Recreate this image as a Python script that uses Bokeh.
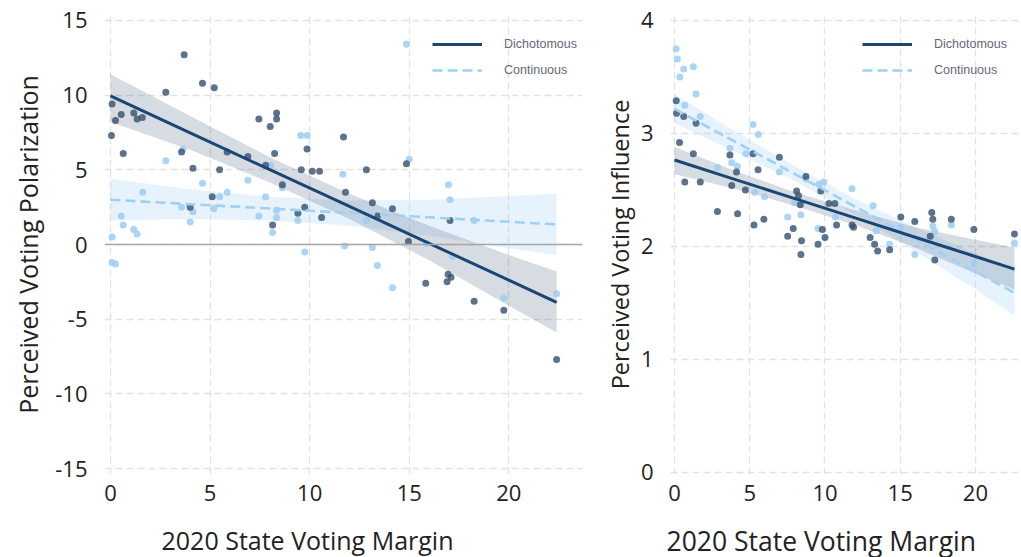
from bokeh.plotting import figure
from bokeh.layouts import row
from bokeh.models import Range1d, FixedTicker, Span, Legend, LegendItem, Title, GlobalInlineStyleSheet
from bokeh.embed import file_html
from bokeh.resources import INLINE

# ---------------- data ----------------
pol_dich_x = [0.08,0.25,0.54,0.05,0.64,1.17,1.34,1.6,2.78,3.7,3.57,4.14,4.0,4.62,5.21,5.48,5.11,5.86,6.9,7.45,
              8.02,8.34,8.34,8.24,7.79,8.63,8.14,9.58,10.13,10.5,9.87,9.41,9.75,10.6,11.7,11.8,12.85,13.15,14.16,13.4,
              14.86,17.05,14.96,15.83,16.95,16.9,17.1,18.26,19.75,22.4]
pol_dich_y = [9.4,8.3,8.7,7.3,6.1,8.8,8.4,8.5,10.2,12.7,6.2,5.1,2.5,10.8,10.5,5.0,3.2,6.2,5.9,8.4,
              7.9,8.8,8.4,6.1,5.3,4.0,1.3,5.0,4.9,4.9,6.4,2.1,2.5,1.8,7.2,3.5,5.0,2.8,2.4,1.9,
              5.4,1.6,0.2,-2.6,-2.0,-2.5,-2.2,-3.8,-4.4,-7.7]
pol_cont_x = [0.08,0.54,0.64,1.17,1.34,1.62,2.78,3.57,3.65,4.14,4.0,4.62,5.48,5.86,5.19,6.9,7.45,7.79,8.04,8.34,
              8.34,8.14,8.63,9.55,9.88,9.41,11.67,14.86,15.0,16.97,17.05,12.85,11.76,13.15,18.26,13.4,14.16,15.86,17.17,19.75,
              22.4,0.08,0.25,9.75]
pol_cont_y = [0.5,1.9,1.3,1.0,0.7,3.5,5.6,2.5,6.4,2.2,1.5,4.1,3.2,3.5,2.4,4.3,1.9,3.2,5.3,2.3,
              1.8,0.8,3.8,7.3,7.3,1.6,4.7,13.4,5.7,4.0,3.0,1.6,-0.1,-0.2,1.6,-1.4,-2.9,0.07,-0.8,-3.6,
              -3.3,-1.2,-1.3,-0.5]

inf_dich_x = [0.11,0.13,0.61,1.43,0.33,1.25,0.68,1.71,3.68,4.12,5.22,5.55,3.8,4.71,6.97,8.73,9.72,8.11,8.24,8.36,
              10.26,10.66,2.85,4.19,5.28,5.94,7.89,7.52,8.44,8.4,9.54,9.83,10.0,10.77,11.8,11.9,13.0,13.3,13.5,14.3,
              15.04,15.97,17.1,17.17,17.0,18.4,19.9,22.6,17.3]
inf_dich_y = [3.29,3.18,3.15,3.09,2.92,2.82,2.57,2.57,2.81,2.66,2.82,2.68,2.54,2.50,2.79,2.62,2.49,2.49,2.45,2.37,
              2.38,2.38,2.31,2.29,2.19,2.24,2.16,2.09,2.05,1.93,2.02,2.15,2.08,2.19,2.19,2.17,2.08,2.02,1.96,1.97,
              2.26,2.22,2.30,2.24,2.09,2.24,2.15,2.11,1.88]
inf_cont_x = [0.11,0.18,0.35,0.61,1.25,1.43,0.68,1.71,5.22,5.57,3.68,3.8,4.17,2.85,4.74,6.97,5.33,5.99,8.73,9.6,
              9.93,11.8,7.96,8.4,7.52,9.54,10.7,13.2,13.4,14.3,15.04,17.17,18.4,15.97,17.3,19.9,22.6]
inf_cont_y = [3.75,3.66,3.50,3.57,3.59,3.35,3.25,3.15,3.08,2.99,2.87,2.74,2.71,2.70,2.82,2.66,2.48,2.44,2.60,2.55,
              2.57,2.51,2.39,2.28,2.26,2.16,2.26,2.36,2.14,2.02,2.17,2.18,2.19,1.93,2.13,1.85,2.03]

# fitted lines and confidence bands
pol_fit_x = [0, 4, 8, 12, 16, 20, 22.4]
pol_dich_line = [9.95, 7.48, 5.01, 2.55, 0.08, -2.39, -3.87]
pol_dich_hi = [11.4, 8.6, 5.85, 3.4, 1.25, -0.7, -1.8]
pol_dich_lo = [8.2, 6.35, 4.15, 1.7, -1.05, -4.1, -5.9]
pol_cont_line = [3.0, 2.70, 2.41, 2.11, 1.82, 1.52, 1.34]
pol_cont_hi = [4.4, 3.7, 3.2, 2.95, 3.0, 3.25, 3.4]
pol_cont_lo = [1.6, 1.7, 1.6, 1.25, 0.6, -0.25, -0.7]

inf_fit_x = [0, 4, 8, 12, 16, 20, 22.6]
inf_dich_line = [2.765, 2.594, 2.423, 2.253, 2.082, 1.911, 1.80]
inf_dich_hi = [2.88, 2.67, 2.48, 2.32, 2.17, 2.06, 1.99]
inf_dich_lo = [2.64, 2.51, 2.36, 2.19, 1.99, 1.76, 1.62]
inf_cont_line = [3.217, 2.929, 2.641, 2.353, 2.065, 1.777, 1.59]
inf_cont_hi = [3.35, 3.02, 2.71, 2.42, 2.17, 1.94, 1.79]
inf_cont_lo = [3.09, 2.84, 2.58, 2.28, 1.96, 1.62, 1.39]

x_ticks = [0, 5, 10, 15, 20]
pol_y_ticks = [-15, -10, -5, 0, 5, 10, 15]
pol_y_labels = ["-15", "-10", "-5", "0", "5", "10", "15"]
inf_y_ticks = [0, 1, 2, 3, 4]
series_labels = ["Dichotomous", "Continuous"]
x_title = "2020 State Voting Margin"

# ---------------- styling ----------------
DARK = "#1a4674"
LIGHT = "#9fd0f5"
DARK_PT = "#34506f"
LIGHT_PT = "#9dcdf3"
FONT = "Open Sans"
TXT = "#222222"


def make_fig(frame_w, frame_h, xr, yr, b_left, b_right, yticks, ylabel, lab_standoff, lab_size):
    p = figure(frame_width=frame_w, frame_height=frame_h,
               x_range=Range1d(*xr), y_range=Range1d(*yr),
               output_backend="svg", toolbar_location=None,
               min_border_left=b_left, min_border_right=b_right,
               min_border_top=14, min_border_bottom=5)
    p.outline_line_color = None
    for ax in (p.xaxis[0], p.yaxis[0]):
        ax.axis_line_color = None
        ax.major_tick_line_color = None
        ax.minor_tick_line_color = None
        ax.major_label_text_font = FONT
        ax.major_label_text_font_size = "22px"
        ax.major_label_text_color = TXT
        ax.axis_label_text_font = FONT
        ax.axis_label_text_font_size = lab_size
        ax.axis_label_text_font_style = "normal"
        ax.axis_label_text_color = TXT
    p.xaxis.ticker = FixedTicker(ticks=x_ticks)
    p.yaxis.ticker = FixedTicker(ticks=yticks)
    p.yaxis.major_label_standoff = 11
    p.xaxis.major_label_standoff = 4
    p.yaxis.axis_label = ylabel
    p.yaxis.axis_label_standoff = lab_standoff
    for g in (p.xgrid[0], p.ygrid[0]):
        g.grid_line_color = "#e2e2e2"
        g.grid_line_dash = "7 4"
        g.grid_line_width = 1.3
    return p


def draw(p, dx, dy, cx, cy, fx, dline, dlo, dhi, cline, clo, chi, legend_x):
    p.varea(x=fx, y1=clo, y2=chi, fill_color=LIGHT, fill_alpha=0.25)
    p.varea(x=fx, y1=dlo, y2=dhi, fill_color="#1f3f66", fill_alpha=0.18)
    p.scatter(cx, cy, size=7, fill_color=LIGHT_PT, fill_alpha=0.85, line_color=None)
    p.scatter(dx, dy, size=7, fill_color=DARK_PT, fill_alpha=0.8, line_color=None)
    rc = p.line(fx, cline, line_color=LIGHT, line_width=2.6, line_dash="10 5")
    rd = p.line(fx, dline, line_color=DARK, line_width=3)
    leg = Legend(items=[LegendItem(label=series_labels[0], renderers=[rd]),
                        LegendItem(label=series_labels[1], renderers=[rc])],
                 location=(legend_x, 394), border_line_color=None,
                 background_fill_alpha=0, label_text_font="Liberation Sans",
                 label_text_font_size="12.5px", label_text_color="#626a78",
                 glyph_width=50, glyph_height=20, label_height=20, spacing=6,
                 padding=0, margin=0, label_standoff=22)
    p.add_layout(leg)


def add_xtitle(p, off, size):
    p.add_layout(Title(text=x_title, align="left", offset=off, standoff=35,
                       text_font=FONT, text_font_size=size,
                       text_font_style="normal", text_color=TXT), "below")


# left panel
p1 = make_fig(478, 460, (-0.3, 23.7), (-15.4, 15.4), 104, 3, pol_y_ticks,
              "Perceived Voting Polarization", 7, "25px")
p1.yaxis.major_label_overrides = {t: s for t, s in zip(pol_y_ticks, pol_y_labels)}
p1.add_layout(Span(location=0, dimension="width", line_color="#a8a8a8", line_width=1.6))
draw(p1, pol_dich_x, pol_dich_y, pol_cont_x, pol_cont_y, pol_fit_x,
     pol_dich_line, pol_dich_lo, pol_dich_hi, pol_cont_line, pol_cont_lo, pol_cont_hi, 328)
add_xtitle(p1, 57, "25px")

# right panel
p2 = make_fig(350, 460, (-0.27, 23.0), (-0.018, 4.053), 85, 0, inf_y_ticks,
              "Perceived Voting Influence", 2, "23.5px")
draw(p2, inf_dich_x, inf_dich_y, inf_cont_x, inf_cont_y, inf_fit_x,
     inf_dich_line, inf_dich_lo, inf_dich_hi, inf_cont_line, inf_cont_lo, inf_cont_hi, 192)
add_xtitle(p2, -4, "26.5px")

layout = row(p1, p2)
layout.stylesheets = [GlobalInlineStyleSheet(css="html, body { overflow: hidden; margin: 0; }")]
open("out.html", "w").write(file_html(layout, INLINE))
